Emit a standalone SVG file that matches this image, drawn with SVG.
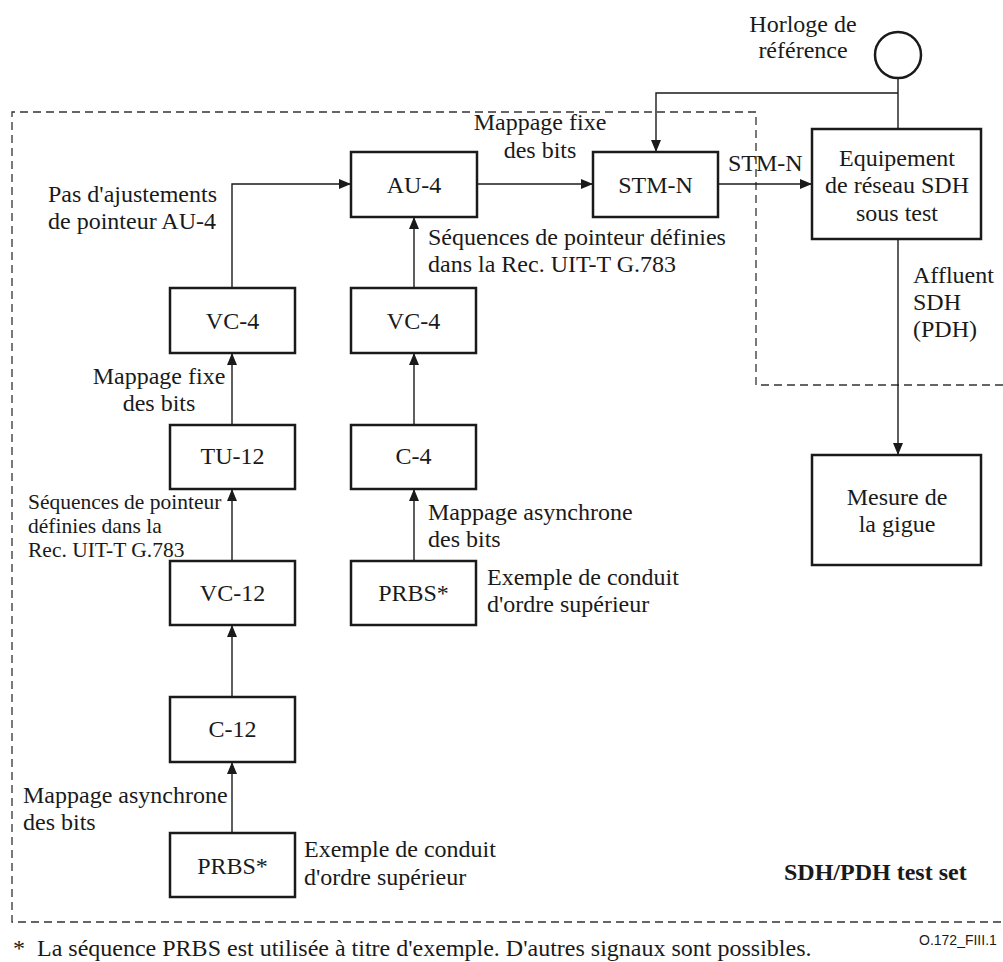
<svg xmlns="http://www.w3.org/2000/svg" width="1003" height="962" viewBox="0 0 1003 962">
<style>
text{font-family:"Liberation Serif","Times New Roman",Times,"DejaVu Serif",serif;fill:#1a1a1a}
.n rect{fill:#fff;stroke:#1a1a1a;stroke-width:2.5}
.n text{font-size:24px;text-anchor:middle}
.lb{font-size:24px}
.sm{font-size:21.5px}
.c{fill:none;stroke:#1a1a1a;stroke-width:1.4}
.d{fill:none;stroke:#333;stroke-width:1.3;stroke-dasharray:8 5}
</style>
<defs>
<marker id="a" viewBox="0 0 12 10" refX="12" refY="5" markerWidth="12" markerHeight="10" markerUnits="userSpaceOnUse" orient="auto">
<path d="M0,0 L12,5 L0,10 Z" fill="#1a1a1a"/>
</marker>
</defs>
<rect width="1003" height="962" fill="#fff"/>
<path class="d" d="M1003,385 L756,385 L756,112 L12,112 L12,922 L1003,922"/>
<g id="connectors">
<path class="c" d="M232,288 L232,184 L351,184" marker-end="url(#a)"/>
<path class="c" d="M477,184 L593,184" marker-end="url(#a)"/>
<path class="c" d="M718,184 L812,184" marker-end="url(#a)"/>
<path class="c" d="M414,288 L414,217" marker-end="url(#a)"/>
<path class="c" d="M414,425 L414,353" marker-end="url(#a)"/>
<path class="c" d="M414,561 L414,489" marker-end="url(#a)"/>
<path class="c" d="M232,425 L232,353" marker-end="url(#a)"/>
<path class="c" d="M232,561 L232,489" marker-end="url(#a)"/>
<path class="c" d="M232,697 L232,625" marker-end="url(#a)"/>
<path class="c" d="M232,833 L232,762" marker-end="url(#a)"/>
<path class="c" d="M898,78 L898,129"/>
<path class="c" d="M898,93 L656,93 L656,152" marker-end="url(#a)"/>
<path class="c" d="M898,239 L898,455" marker-end="url(#a)"/>
</g>
<g id="clock"><circle cx="898" cy="55" r="23" fill="#fff" stroke="#1a1a1a" stroke-width="2.5"/></g>
<g id="au4" class="n"><rect x="351" y="152" width="126" height="65"/><text x="414" y="193">AU-4</text></g>
<g id="stmn" class="n"><rect x="593" y="152" width="125" height="65"/><text x="655.5" y="193">STM-N</text></g>
<g id="equip" class="n"><rect x="812" y="129" width="169" height="110"/><text x="897" y="166">Equipement</text><text x="897" y="193">de réseau SDH</text><text x="897" y="221">sous test</text></g>
<g id="vc4a" class="n"><rect x="170" y="288" width="125" height="65"/><text x="232.5" y="329">VC-4</text></g>
<g id="vc4b" class="n"><rect x="351" y="288" width="125" height="65"/><text x="413.5" y="329">VC-4</text></g>
<g id="tu12" class="n"><rect x="170" y="425" width="125" height="64"/><text x="232.5" y="464">TU-12</text></g>
<g id="c4" class="n"><rect x="351" y="425" width="125" height="64"/><text x="413.5" y="464">C-4</text></g>
<g id="vc12" class="n"><rect x="170" y="561" width="125" height="64"/><text x="232.5" y="601">VC-12</text></g>
<g id="prbs2" class="n"><rect x="351" y="561" width="125" height="64"/><text x="413.5" y="601">PRBS*</text></g>
<g id="c12" class="n"><rect x="170" y="697" width="125" height="65"/><text x="232.5" y="737">C-12</text></g>
<g id="prbs1" class="n"><rect x="170" y="833" width="125" height="64"/><text x="232.5" y="874">PRBS*</text></g>
<g id="mesure" class="n"><rect x="812" y="455" width="169" height="110"/><text x="897" y="505">Mesure de</text><text x="897" y="532">la gigue</text></g>
<g id="labels">
<text class="lb" x="803" y="32" text-anchor="middle">Horloge de</text>
<text class="lb" x="803" y="58" text-anchor="middle">référence</text>
<text class="lb" x="540" y="130" text-anchor="middle">Mappage fixe</text>
<text class="lb" x="540" y="158" text-anchor="middle">des bits</text>
<text class="lb" x="48" y="202">Pas d'ajustements</text>
<text class="lb" x="48" y="229">de pointeur AU-4</text>
<text class="lb" x="428" y="245">Séquences de pointeur définies</text>
<text class="lb" x="428" y="272">dans la Rec. UIT-T G.783</text>
<text class="lb" x="728" y="171">STM-N</text>
<text class="lb" x="913" y="283">Affluent</text>
<text class="lb" x="913" y="310">SDH</text>
<text class="lb" x="913" y="337">(PDH)</text>
<text class="lb" x="159" y="384" text-anchor="middle">Mappage fixe</text>
<text class="lb" x="159" y="411" text-anchor="middle">des bits</text>
<text class="sm" x="28" y="509">Séquences de pointeur</text>
<text class="sm" x="28" y="533">définies dans la</text>
<text class="sm" x="28" y="557">Rec. UIT-T G.783</text>
<text class="lb" x="428" y="520">Mappage asynchrone</text>
<text class="lb" x="428" y="547">des bits</text>
<text class="lb" x="487" y="585">Exemple de conduit</text>
<text class="lb" x="487" y="612">d'ordre supérieur</text>
<text class="lb" x="23" y="803">Mappage asynchrone</text>
<text class="lb" x="23" y="830">des bits</text>
<text class="lb" x="304" y="857">Exemple de conduit</text>
<text class="lb" x="304" y="885">d'ordre supérieur</text>
<text x="784" y="880" style="font-size:24px;font-weight:bold">SDH/PDH test set</text>
<text class="lb" x="13" y="956">*</text>
<text class="lb" x="37" y="956">La séquence PRBS est utilisée à titre d'exemple. D'autres signaux sont possibles.</text>
<text x="919" y="945" style="font-family:'Liberation Sans',Arial,sans-serif;font-size:14px">O.172_FIII.1</text>
</g>
</svg>
